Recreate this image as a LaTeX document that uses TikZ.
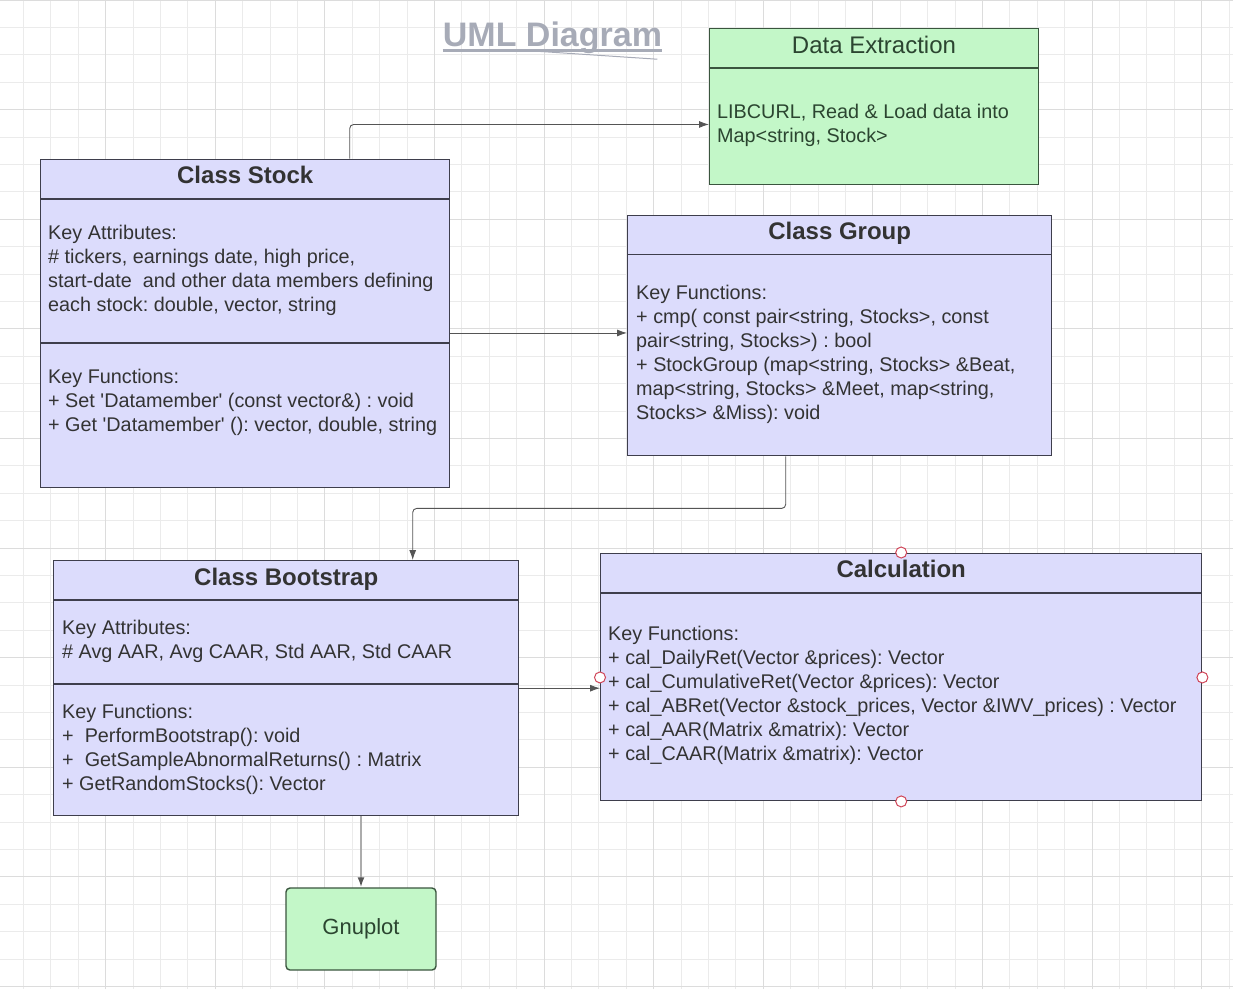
\documentclass[tikz,border=0pt]{standalone}
\usepackage{fontspec}
\setmainfont{Liberation Sans}
\usetikzlibrary{arrows.meta,positioning}
\definecolor{lav}{HTML}{DCDCFC}
\definecolor{mint}{HTML}{C3F7C8}
\definecolor{edge}{HTML}{3E3E4C}
\definecolor{mintedge}{HTML}{3A553E}
\definecolor{ink}{HTML}{333333}
\definecolor{mintink}{HTML}{2B4530}
\definecolor{wire}{HTML}{555555}
\definecolor{pinred}{HTML}{D04558}
\definecolor{gmin}{HTML}{EBEBEB}
\definecolor{gmaj}{HTML}{DCDCDC}
\definecolor{ttl}{HTML}{A7ABB7}
\frenchspacing
\begin{document}
\begin{tikzpicture}[x=1pt,y=-1pt,>={Latex[length=10pt,width=7pt]},
	cls/.style={draw=edge,line width=1.4pt,fill=lav,inner sep=0,anchor=north west},
	ext/.style={draw=mintedge,line width=1.4pt,fill=mint,inner sep=0,anchor=north west},
	head/.style={font=\bfseries\fontsize{24}{28}\selectfont,text=ink,anchor=base,inner sep=0},
	body/.style={font=\fontsize{19.8}{24}\selectfont,text=ink,align=left,anchor=north west,inner sep=0},
	conn/.style={->,draw=wire,line width=0.9pt,rounded corners=4pt},
	pin/.style={circle,draw=pinred,fill=white,line width=1pt,minimum size=11pt,inner sep=0}]
	\useasboundingbox (0,0) rectangle (1233,989);
	% background grid
	\begin{scope}[xshift=-4pt]
		\draw[gmin,line width=0.8pt] (0,0) grid[step=27.4pt] (1240,989);
		\draw[gmaj,line width=0.9pt] (0,0) grid[step=109.6pt] (1240,989);
	\end{scope}
	% title
	\node[font=\bfseries\fontsize{34}{40}\selectfont,text=ttl,anchor=base,inner sep=0] (title) at (552.5,46.7) {UML Diagram};
	\draw[ttl,line width=3pt] ([yshift=-4pt]title.base west) -- ([yshift=-4pt]title.base east);
	\draw[ttl,line width=1pt] ([xshift=86pt,yshift=-4pt]title.base west) -- ([xshift=-5pt,yshift=-12.5pt]title.base east);
	% boxes
	\node[ext,minimum width=328.5pt,minimum height=155.5pt] (data) at (709,28) {};
	\node[cls,minimum width=409pt,minimum height=328.5pt] (stock) at (40,158.5) {};
	\node[cls,minimum width=424pt,minimum height=240.5pt] (group) at (627,214.5) {};
	\node[cls,minimum width=465pt,minimum height=255pt] (boot) at (53,560) {};
	\node[cls,minimum width=601pt,minimum height=247.5pt] (calc) at (600,552.5) {};
	\node[ext,minimum width=150pt,minimum height=82pt,rounded corners=4pt,anchor=center,font=\fontsize{22}{26}\selectfont,text=mintink] (gnu) at (361,929) {Gnuplot};
	% compartments
	\draw[mintedge,line width=1.4pt] ([yshift=-40pt]data.north west) -- ([yshift=-40pt]data.north east);
	\draw[edge,line width=1.4pt] ([yshift=-40.5pt]stock.north west) -- ([yshift=-40.5pt]stock.north east) ([yshift=-184.5pt]stock.north west) -- ([yshift=-184.5pt]stock.north east);
	\draw[edge,line width=1.4pt] ([yshift=-40pt]group.north west) -- ([yshift=-40pt]group.north east);
	\draw[edge,line width=1.4pt] ([yshift=-40pt]boot.north west) -- ([yshift=-40pt]boot.north east) ([yshift=-124pt]boot.north west) -- ([yshift=-124pt]boot.north east);
	\draw[edge,line width=1.4pt] ([yshift=-40.5pt]calc.north west) -- ([yshift=-40.5pt]calc.north east);
	% headings
	\node[head,font=\fontsize{24}{28}\selectfont,text=mintink] (datahd) at ([yshift=-25pt]data.north) {Data Extraction};
	\node[head] (stockhd) at ([yshift=-25pt]stock.north) {Class Stock};
	\node[head] (grouphd) at ([yshift=-25pt]group.north) {Class Group};
	\node[head] (boothd) at ([yshift=-25.5pt]boot.north) {Class Bootstrap};
	\node[head] (calchd) at ([yshift=-25pt]calc.north) {Calculation};
	% compartment texts
	\node[body,text=mintink] (datatx) at ([shift={(8,76)}]data.north west) {LIBCURL, Read \& Load data into\\Map<string, Stock>};
	\node[body] (stockatt) at ([shift={(8,66.5)}]stock.north west) {Key Attributes:\\\# tickers, earnings date, high price,\\start-date\ \ and other data members defining\\each stock: double, vector, string};
	\node[body] (stockfn) at ([shift={(8,210.5)}]stock.north west) {Key Functions:\\+ Set \textquotesingle Datamember\textquotesingle\ (const vector\&) : void\\+ Get \textquotesingle Datamember\textquotesingle\ (): vector, double, string};
	\node[body] (groupfn) at ([shift={(9,70.5)}]group.north west) {Key Functions:\\+ cmp( const pair<string, Stocks>, const\\pair<string, Stocks>) : bool\\+ StockGroup (map<string, Stocks> \&Beat,\\map<string, Stocks> \&Meet, map<string,\\Stocks> \&Miss): void};
	\node[body] (bootatt) at ([shift={(9,60)}]boot.north west) {Key Attributes:\\\# Avg AAR, Avg CAAR, Std AAR, Std CAAR};
	\node[body] (bootfn) at ([shift={(9,144)}]boot.north west) {Key Functions:\\+\ \ PerformBootstrap(): void\\+\ \ GetSampleAbnormalReturns() : Matrix\\+ GetRandomStocks(): Vector};
	\node[body] (calcfn) at ([shift={(8,73.5)}]calc.north west) {Key Functions:\\+ cal\_DailyRet(Vector \&prices): Vector\\+ cal\_CumulativeRet(Vector \&prices): Vector\\+ cal\_ABRet(Vector \&stock\_prices, Vector \&IWV\_prices) : Vector\\+ cal\_AAR(Matrix \&matrix): Vector\\+ cal\_CAAR(Matrix \&matrix): Vector};
	% connectors
	\draw[conn] ([xshift=104.5pt]stock.north) |- ([yshift=-18pt]data.west);
	\draw[conn] ([yshift=-9.5pt]stock.east) -- ([yshift=-9.5pt]stock.east -| group.west);
	\draw[conn] ([xshift=-54pt]group.south) -- ++(0,52) -| ([xshift=126.5pt]boot.north);
	\draw[conn] (boot.east) -- (boot.east -| calc.west);
	\draw[->,draw=gray!65,line width=1.8pt,>={Latex[length=10pt,width=7pt,color=wire]}] (gnu.north |- boot.south) -- (gnu.north);
	% handles
	\node[pin] (pinn) at (calc.north) {};
	\node[pin] (pinw) at ([yshift=-0.5pt]calc.west) {};
	\node[pin] (pine) at ([yshift=-0.5pt]calc.east) {};
	\node[pin] (pins) at (calc.south) {};
\end{tikzpicture}
\end{document}
